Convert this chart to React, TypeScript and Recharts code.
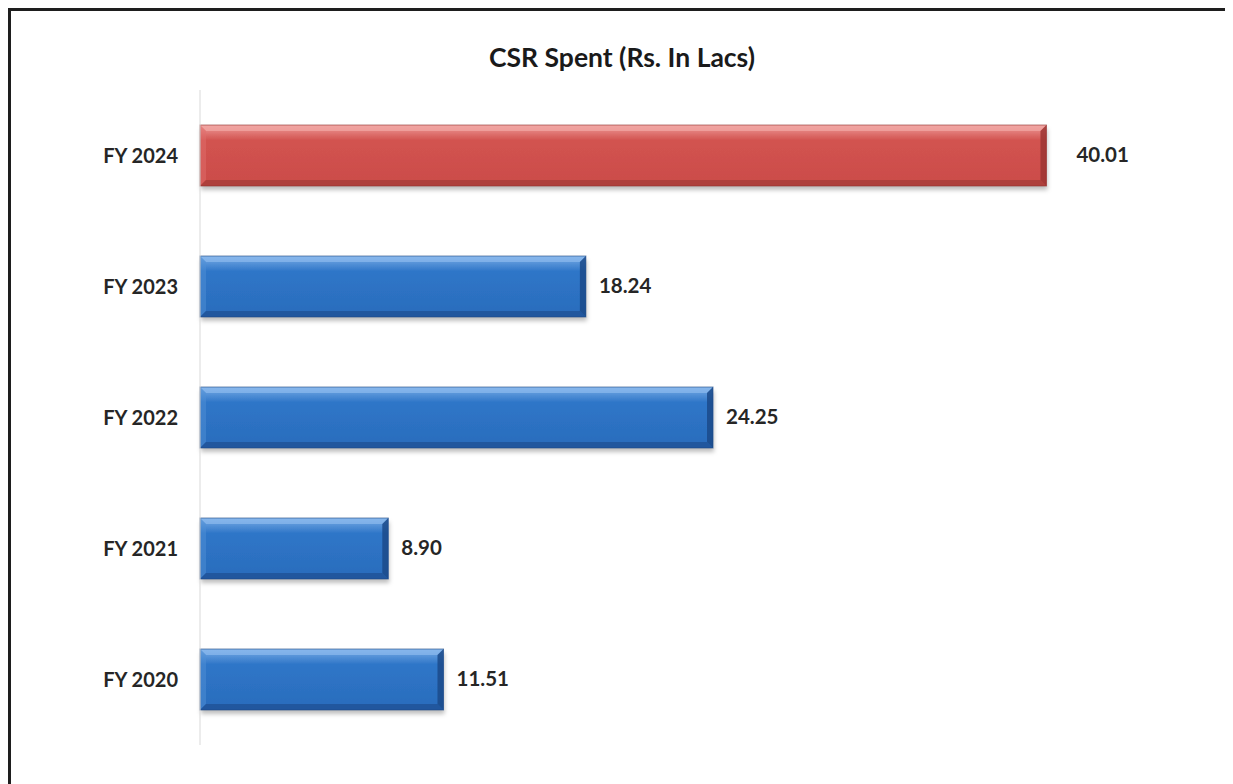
import { Bar, BarChart, LabelList, XAxis, YAxis } from 'recharts';

const years = ['FY 2024', 'FY 2023', 'FY 2022', 'FY 2021', 'FY 2020'];
const csrSpent = [40.01, 18.24, 24.25, 8.9, 11.51];
const highlightYear = 'FY 2024';

const chartData = years.map((year, i) => ({ year, spent: csrSpent[i] }));

const FONT = 'Lato, "Open Sans", sans-serif';

const palettes = {
  red: {
    top: '#ee9a97',
    mid: '#d25350',
    low: '#cb4c49',
    bevelTop: '#f2aaa7',
    bevelLeft: '#df6e6b',
    bevelBottom: '#a63d3a',
    bevelRight: '#9c3532',
    edge: '#8f2f2d',
  },
  blue: {
    top: '#79ace6',
    mid: '#2f76c8',
    low: '#2a6cbc',
    bevelTop: '#8dbbee',
    bevelLeft: '#4f8fd6',
    bevelBottom: '#1f5196',
    bevelRight: '#1b4a8a',
    edge: '#1c4682',
  },
};

function BevelBar(props: any) {
  const { x, y, width, height, payload } = props;
  if (!width || width <= 0) return null;
  const key = payload.year === highlightYear ? 'red' : 'blue';
  const c = palettes[key];
  const b = 6;
  const r = x + width;
  const btm = y + height;
  return (
    <g>
      <rect
        x={x}
        y={y}
        width={width}
        height={height}
        fill={`url(#grad-${key})`}
        filter="url(#barShadow)"
      />
      <polygon
        points={`${x},${y} ${r},${y} ${r - b},${y + b} ${x + b},${y + b}`}
        fill={c.bevelTop}
        opacity={0.7}
      />
      <polygon
        points={`${x},${y} ${x + b},${y + b} ${x + b},${btm - b} ${x},${btm}`}
        fill={c.bevelLeft}
        opacity={0.5}
      />
      <polygon
        points={`${x},${btm} ${x + b},${btm - b} ${r - b},${btm - b} ${r},${btm}`}
        fill={c.bevelBottom}
        opacity={0.8}
      />
      <polygon
        points={`${r},${y} ${r},${btm} ${r - b},${btm - b} ${r - b},${y + b}`}
        fill={c.bevelRight}
        opacity={0.85}
      />
      <rect
        x={x}
        y={y}
        width={width}
        height={height}
        fill="none"
        stroke={c.edge}
        strokeWidth={1}
        strokeOpacity={0.6}
      />
    </g>
  );
}

function ValueLabel(props: any) {
  const { x, y, width, height, value, index } = props;
  const gap = years[index] === highlightYear ? 30 : 13;
  return (
    <text
      x={x + width + gap}
      y={y + height / 2}
      dy={1}
      dominantBaseline="middle"
      fontFamily={FONT}
      fontWeight={700}
      fontSize={20.5}
      fill="#262626"
    >
      {Number(value).toFixed(2)}
    </text>
  );
}

export default function App() {
  return (
    <div
      style={{
        position: 'relative',
        width: 1222,
        height: 773,
        borderTop: '3px solid #1e1e1e',
        borderLeft: '3px solid #1e1e1e',
        background: '#fff',
      }}
    >
      <div
        style={{
          position: 'absolute',
          top: 30,
          left: 0,
          width: 1222,
          textAlign: 'center',
          fontFamily: FONT,
          fontWeight: 700,
          fontSize: 26.5,
          color: '#1a1a1a',
        }}
      >
        CSR Spent (Rs. In Lacs)
      </div>
      <BarChart
        width={1222}
        height={773}
        data={chartData}
        layout="vertical"
        margin={{ top: 79, right: 81, left: 0, bottom: 39 }}
      >
        <defs>
          <linearGradient id="grad-red" x1="0" y1="0" x2="0" y2="1">
            <stop offset="0%" stopColor={palettes.red.top} />
            <stop offset="25%" stopColor={palettes.red.mid} />
            <stop offset="100%" stopColor={palettes.red.low} />
          </linearGradient>
          <linearGradient id="grad-blue" x1="0" y1="0" x2="0" y2="1">
            <stop offset="0%" stopColor={palettes.blue.top} />
            <stop offset="25%" stopColor={palettes.blue.mid} />
            <stop offset="100%" stopColor={palettes.blue.low} />
          </linearGradient>
          <filter id="barShadow" x="-5%" y="-10%" width="110%" height="140%">
            <feDropShadow dx="1" dy="4" stdDeviation="2" floodColor="#000" floodOpacity="0.25" />
          </filter>
        </defs>
        <XAxis type="number" domain={[0, 45]} hide />
        <YAxis
          type="category"
          dataKey="year"
          width={189}
          axisLine={{ stroke: '#d9d9d9', strokeWidth: 1 }}
          tickLine={false}
          tickMargin={16}
          tick={{ fontFamily: FONT, fontWeight: 700, fontSize: 20, fill: '#262626' }}
        />
        <Bar
          dataKey="spent"
          barSize={61}
          shape={<BevelBar />}
          isAnimationActive={false}
        >
          <LabelList dataKey="spent" content={<ValueLabel />} />
        </Bar>
      </BarChart>
    </div>
  );
}
